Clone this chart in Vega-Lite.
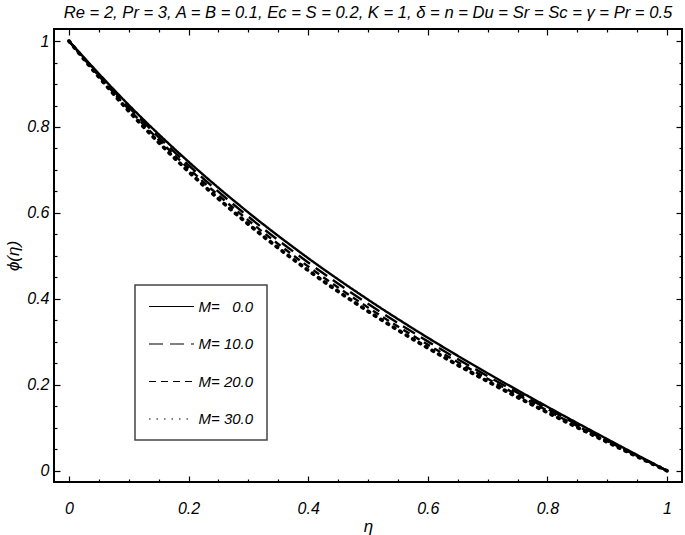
{
  "$schema": "https://vega.github.io/schema/vega-lite/v6.json",
  "width": 628,
  "height": 453,
  "autosize": {"type": "none"},
  "padding": {"left": 54, "top": 29, "right": 3, "bottom": 53},
  "background": "white",
  "config": {
    "view": {"stroke": "#000", "strokeWidth": 2},
    "font": "Liberation Sans",
    "axis": {"labelFont": "Liberation Sans", "labelFontStyle": "italic", "labelFontSize": 16, "labelColor": "#000", "titleFont": "Liberation Sans", "titleFontStyle": "italic", "titleFontWeight": "normal", "titleFontSize": 17, "titleColor": "#000", "tickColor": "#000", "tickWidth": 1.2, "domain": false, "grid": false}
  },
  "title": {"text": "Re = 2, Pr = 3, A = B = 0.1, Ec = S = 0.2, K = 1, δ = n = Du = Sr = Sc = γ = Pr = 0.5", "font": "Liberation Sans", "fontSize": 16.6, "fontStyle": "italic", "fontWeight": "normal", "color": "#000", "anchor": "middle", "frame": "group", "offset": 7},
  "data": {"values": [
    {"eta": 0, "phi": 1, "M": "M=\u00a0\u00a0 0.0"},
    {"eta": 0.1, "phi": 0.8512, "M": "M=\u00a0\u00a0 0.0"},
    {"eta": 0.2, "phi": 0.7191, "M": "M=\u00a0\u00a0 0.0"},
    {"eta": 0.3, "phi": 0.6011, "M": "M=\u00a0\u00a0 0.0"},
    {"eta": 0.4, "phi": 0.4948, "M": "M=\u00a0\u00a0 0.0"},
    {"eta": 0.5, "phi": 0.3984, "M": "M=\u00a0\u00a0 0.0"},
    {"eta": 0.6, "phi": 0.3097, "M": "M=\u00a0\u00a0 0.0"},
    {"eta": 0.7, "phi": 0.2271, "M": "M=\u00a0\u00a0 0.0"},
    {"eta": 0.8, "phi": 0.1490, "M": "M=\u00a0\u00a0 0.0"},
    {"eta": 0.9, "phi": 0.0738, "M": "M=\u00a0\u00a0 0.0"},
    {"eta": 1, "phi": 0, "M": "M=\u00a0\u00a0 0.0"},
    {"eta": 0, "phi": 1, "M": "M=\u00a010.0"},
    {"eta": 0.1, "phi": 0.8462, "M": "M=\u00a010.0"},
    {"eta": 0.2, "phi": 0.7110, "M": "M=\u00a010.0"},
    {"eta": 0.3, "phi": 0.5913, "M": "M=\u00a010.0"},
    {"eta": 0.4, "phi": 0.4847, "M": "M=\u00a010.0"},
    {"eta": 0.5, "phi": 0.3886, "M": "M=\u00a010.0"},
    {"eta": 0.6, "phi": 0.3012, "M": "M=\u00a010.0"},
    {"eta": 0.7, "phi": 0.2203, "M": "M=\u00a010.0"},
    {"eta": 0.8, "phi": 0.1442, "M": "M=\u00a010.0"},
    {"eta": 0.9, "phi": 0.0713, "M": "M=\u00a010.0"},
    {"eta": 1, "phi": 0, "M": "M=\u00a010.0"},
    {"eta": 0, "phi": 1, "M": "M=\u00a020.0"},
    {"eta": 0.1, "phi": 0.8417, "M": "M=\u00a020.0"},
    {"eta": 0.2, "phi": 0.7037, "M": "M=\u00a020.0"},
    {"eta": 0.3, "phi": 0.5827, "M": "M=\u00a020.0"},
    {"eta": 0.4, "phi": 0.4756, "M": "M=\u00a020.0"},
    {"eta": 0.5, "phi": 0.3801, "M": "M=\u00a020.0"},
    {"eta": 0.6, "phi": 0.2936, "M": "M=\u00a020.0"},
    {"eta": 0.7, "phi": 0.2142, "M": "M=\u00a020.0"},
    {"eta": 0.8, "phi": 0.1400, "M": "M=\u00a020.0"},
    {"eta": 0.9, "phi": 0.0692, "M": "M=\u00a020.0"},
    {"eta": 1, "phi": 0, "M": "M=\u00a020.0"},
    {"eta": 0, "phi": 1, "M": "M=\u00a030.0"},
    {"eta": 0.1, "phi": 0.8372, "M": "M=\u00a030.0"},
    {"eta": 0.2, "phi": 0.6964, "M": "M=\u00a030.0"},
    {"eta": 0.3, "phi": 0.5739, "M": "M=\u00a030.0"},
    {"eta": 0.4, "phi": 0.4665, "M": "M=\u00a030.0"},
    {"eta": 0.5, "phi": 0.3714, "M": "M=\u00a030.0"},
    {"eta": 0.6, "phi": 0.2860, "M": "M=\u00a030.0"},
    {"eta": 0.7, "phi": 0.2082, "M": "M=\u00a030.0"},
    {"eta": 0.8, "phi": 0.1358, "M": "M=\u00a030.0"},
    {"eta": 0.9, "phi": 0.0670, "M": "M=\u00a030.0"},
    {"eta": 1, "phi": 0, "M": "M=\u00a030.0"}
  ]},
  "layer": [
    {
      "encoding": {
        "x": {"field": "eta", "type": "quantitative", "scale": {"domain": [-0.025, 1.025], "nice": false, "zero": false},
          "axis": {"title": "η", "titlePadding": 2, "values": [0,0.05,0.1,0.15,0.2,0.25,0.3,0.35,0.4,0.45,0.5,0.55,0.6,0.65,0.7,0.75,0.8,0.85,0.9,0.95,1],
            "tickSize": {"condition": {"test": "abs(datum.value*5 - round(datum.value*5)) < 0.001", "value": -6}, "value": -3},
            "labelExpr": "abs(datum.value*5 - round(datum.value*5)) < 0.001 ? format(datum.value, '~g') : ''", "labelPadding": 24}},
        "y": {"field": "phi", "type": "quantitative", "scale": {"domain": [-0.026, 1.028], "nice": false, "zero": false},
          "axis": {"title": "ϕ(η)", "titlePadding": 4, "values": [0,0.05,0.1,0.15,0.2,0.25,0.3,0.35,0.4,0.45,0.5,0.55,0.6,0.65,0.7,0.75,0.8,0.85,0.9,0.95,1],
            "tickSize": {"condition": {"test": "abs(datum.value*5 - round(datum.value*5)) < 0.001", "value": -6}, "value": -3},
            "labelExpr": "abs(datum.value*5 - round(datum.value*5)) < 0.001 ? format(datum.value, '~g') : ''", "labelPadding": 11}},
        "strokeDash": {"field": "M", "type": "nominal",
          "scale": {"domain": ["M=\u00a0\u00a0 0.0", "M=\u00a010.0", "M=\u00a020.0", "M=\u00a030.0"], "range": [[1, 0], [14, 7], [7, 5], [1.5, 6]]},
          "legend": {"title": null, "orient": "none", "legendX": 81, "legendY": 256, "padding": 13, "strokeColor": "#444", "fillColor": "#fff",
            "symbolType": "M-1,0H5", "symbolSize": 225, "symbolStrokeWidth": 1.2, "symbolStrokeColor": "#000", "labelFont": "Liberation Sans", "labelFontStyle": "italic", "labelFontSize": 15, "labelColor": "#000", "labelOffset": 33.5, "rowPadding": 20.5,
            "encode": {"symbols": {"update": {"strokeWidth": {"value": 1.2}, "strokeCap": {"value": "butt"}}}, "legend": {"update": {"strokeWidth": {"value": 1.5}}}}}}
      },
      "layer": [
        {
          "transform": [{"filter": "datum.M != 'M=\u00a030.0'"}],
          "mark": {"type": "line", "interpolate": "monotone", "color": "#000", "strokeWidth": 2.4, "strokeCap": "butt"}
        },
        {
          "transform": [{"filter": "datum.M == 'M=\u00a030.0'"}],
          "mark": {"type": "line", "interpolate": "monotone", "color": "#000", "strokeWidth": 3.8, "strokeCap": "round"}
        }
      ]
    },
    {
      "mark": {"type": "line", "strokeOpacity": 0},
      "encoding": {
        "x": {"field": "eta", "type": "quantitative",
          "axis": {"orient": "top", "title": null, "labels": false, "values": [0,0.05,0.1,0.15,0.2,0.25,0.3,0.35,0.4,0.45,0.5,0.55,0.6,0.65,0.7,0.75,0.8,0.85,0.9,0.95,1],
            "tickSize": {"condition": {"test": "abs(datum.value*5 - round(datum.value*5)) < 0.001", "value": -6}, "value": -3}}},
        "y": {"field": "phi", "type": "quantitative",
          "axis": {"orient": "right", "title": null, "labels": false, "values": [0,0.05,0.1,0.15,0.2,0.25,0.3,0.35,0.4,0.45,0.5,0.55,0.6,0.65,0.7,0.75,0.8,0.85,0.9,0.95,1],
            "tickSize": {"condition": {"test": "abs(datum.value*5 - round(datum.value*5)) < 0.001", "value": -6}, "value": -3}}},
        "detail": {"field": "M", "type": "nominal"}
      }
    }
  ],
  "resolve": {"axis": {"x": "independent", "y": "independent"}}
}
